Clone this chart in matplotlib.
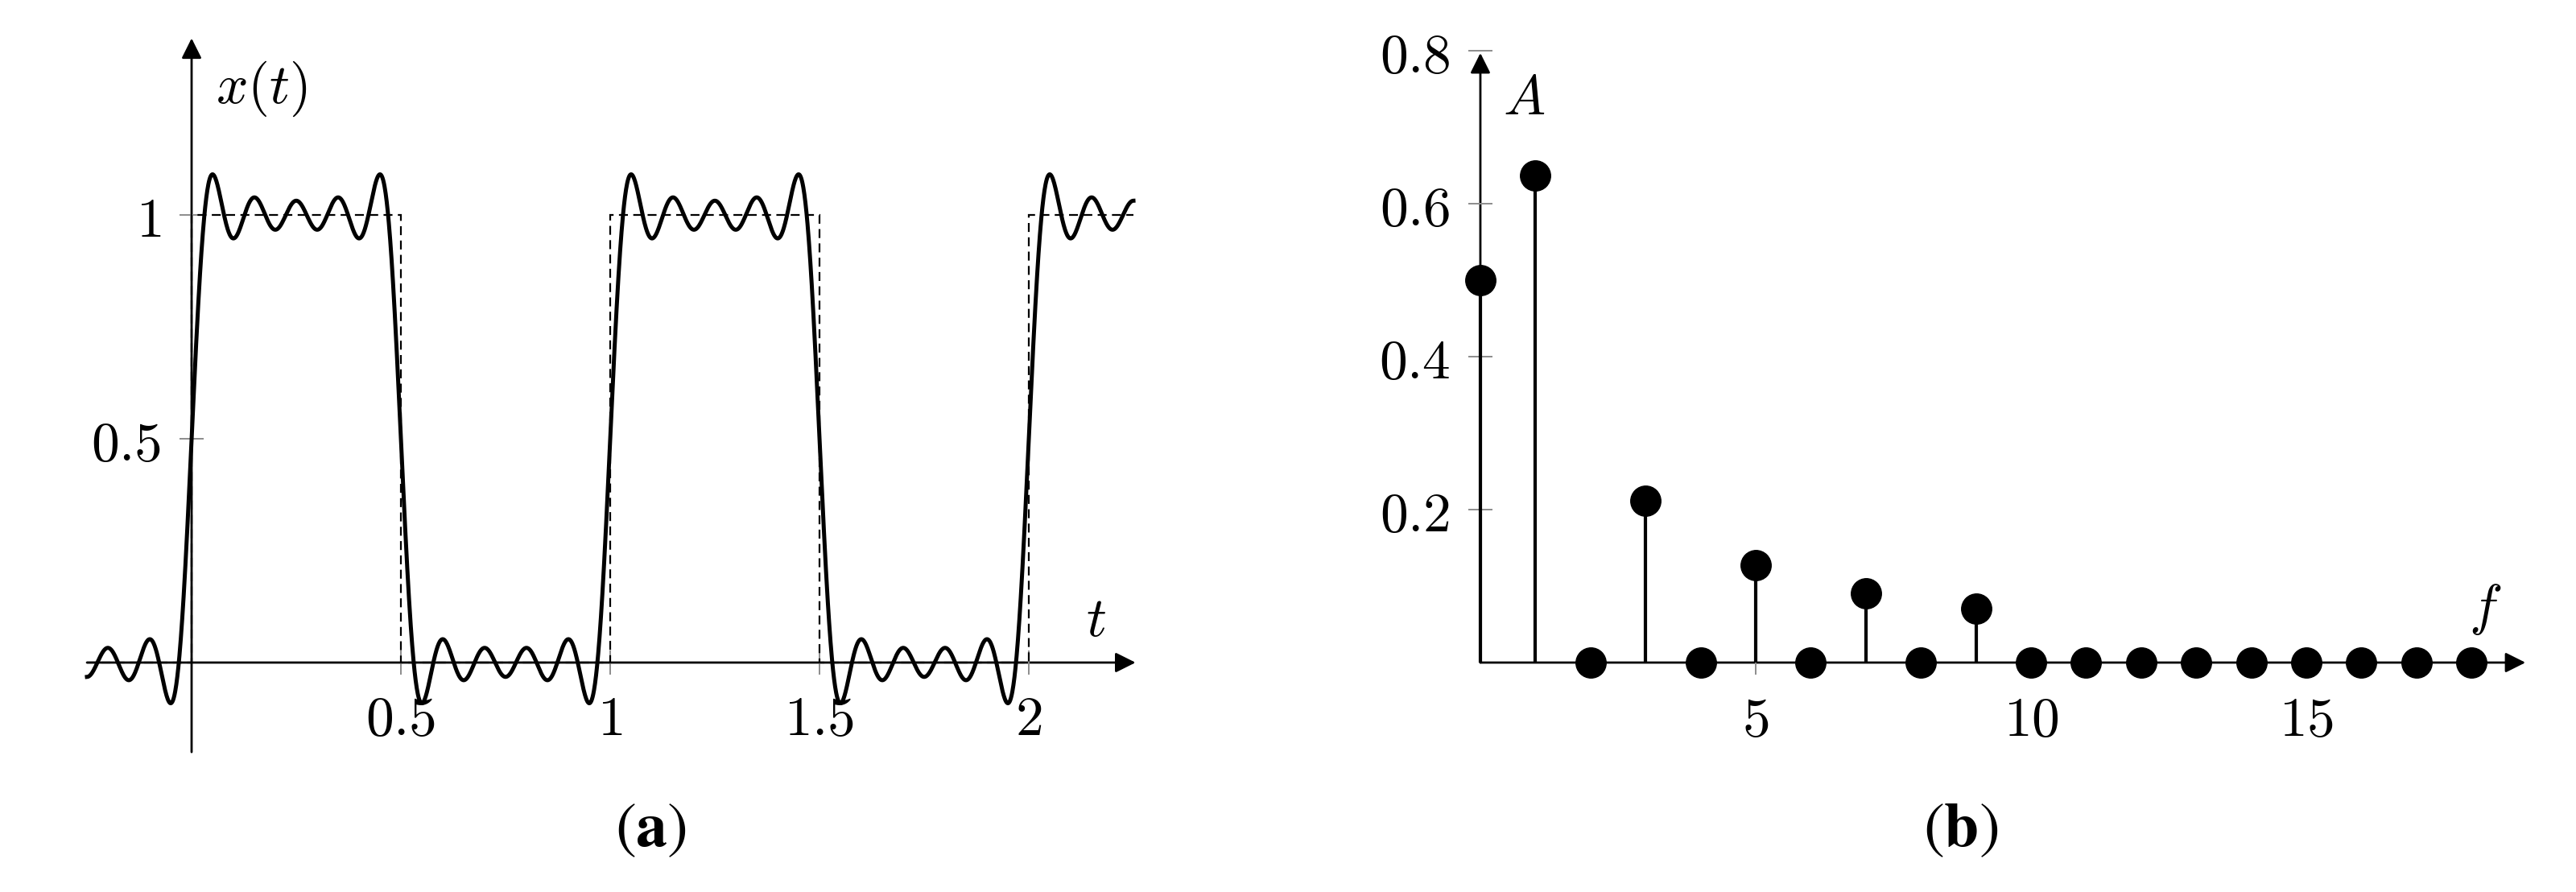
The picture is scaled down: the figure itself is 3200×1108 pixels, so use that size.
import numpy as np
import matplotlib
matplotlib.use("Agg")
import matplotlib.pyplot as plt

plt.rcParams['mathtext.fontset'] = 'cm'

# spectrum (panel b)
freqs = np.arange(0, 19)
amps = np.array([0.5, 0.637, 0, 0.212, 0, 0.127, 0, 0.091, 0, 0.071,
                 0, 0, 0, 0, 0, 0, 0, 0, 0])

# ideal square wave (panel a), dashed
sq_edges = [-0.25, 0, 0.5, 1, 1.5, 2, 2.25]
sq_levels = [0, 1, 0, 1, 0, 1]

left_xticks = [0.5, 1, 1.5, 2]
left_xlabels = ['0.5', '1', '1.5', '2']
left_yticks = [0.5, 1]
left_ylabels = ['0.5', '1']
right_xticks = [5, 10, 15]
right_yticks = [0.2, 0.4, 0.6, 0.8]
right_ylabels = ['0.2', '0.4', '0.6', '0.8']

FS = 50
TICK_GRAY = '#8c8c8c'

fig = plt.figure(figsize=(32, 11.08), dpi=100)
ax1 = fig.add_axes([0.02563, 0.1318, 0.4225, 0.8529])
ax2 = fig.add_axes([0.5533, 0.1286, 0.4382, 0.8574])


def setup(ax):
    for s in ['top', 'right']:
        ax.spines[s].set_visible(False)
    for s in ['left', 'bottom']:
        ax.spines[s].set_position(('data', 0))
        ax.spines[s].set_visible(False)
    ax.tick_params(direction='inout', length=22, width=1.4, color=TICK_GRAY,
                   labelsize=FS, pad=16)


def arrow(ax, start, end):
    ax.annotate('', xy=end, xytext=start,
                arrowprops=dict(arrowstyle='-|>', lw=2.0, color='black',
                                shrinkA=0, shrinkB=0, mutation_scale=38),
                zorder=1)


# ---- (a) time signal ----
setup(ax1)
ax1.set_xlim(-0.3, 2.3)
ax1.set_ylim(-0.25, 1.45)

t = np.linspace(sq_edges[0], sq_edges[-1], 3000)
x = np.full_like(t, amps[0])
for k, a in zip(freqs[1:], amps[1:]):
    x = x + a * np.sin(2 * np.pi * k * t)

ax1.stairs(sq_levels, sq_edges, baseline=None, color='black', lw=1.6,
           linestyle=(0, (5, 3)), zorder=2)
ax1.plot(t, x, color='black', lw=3.6, zorder=3)

arrow(ax1, (-0.25, 0), (2.255, 0))
arrow(ax1, (0, -0.2), (0, 1.395))

ax1.set_xticks(left_xticks)
ax1.set_xticklabels(['$' + s + '$' for s in left_xlabels])
ax1.set_yticks(left_yticks)
ax1.set_yticklabels(['$' + s + '$' for s in left_ylabels])
ax1.text(0.058, 1.282, r'$x(t)$', fontsize=FS, ha='left', va='center')
ax1.text(2.16, 0.094, r'$t$', fontsize=FS, ha='center', va='center')

# ---- (b) amplitude spectrum ----
setup(ax2)
ax2.set_xlim(-1, 19.5)
ax2.set_ylim(-0.15, 0.85)

arrow(ax2, (0, 0), (18.98, 0))
arrow(ax2, (0, 0), (0, 0.797))

ml, sl, bl = ax2.stem(freqs, amps, linefmt='k-', markerfmt='ko', basefmt=' ')
ml.set_markersize(27)
ml.set_zorder(4)
sl.set_linewidth(3.0)
sl.set_zorder(3)

ax2.set_xticks(right_xticks)
ax2.set_xticklabels(['$%d$' % v for v in right_xticks])
ax2.set_yticks(right_yticks)
ax2.set_yticklabels(['$' + s + '$' for s in right_ylabels])
ax2.text(0.79, 0.737, r'$A$', fontsize=FS, ha='center', va='center')
ax2.text(18.25, 0.07, r'$f$', fontsize=FS, ha='center', va='center')

# captions
fig.text(0.2525, 0.0713, r'$(\mathbf{a})$', fontsize=56, ha='center',
         va='center', math_fontfamily='stix')
fig.text(0.761, 0.0713, r'$(\mathbf{b})$', fontsize=56, ha='center',
         va='center', math_fontfamily='stix')

fig.savefig('out.png', dpi=100, facecolor='white')
